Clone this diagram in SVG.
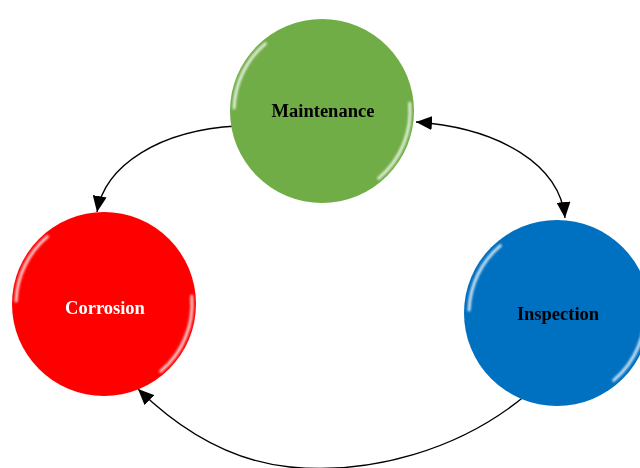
<svg xmlns="http://www.w3.org/2000/svg" xmlns:xlink="http://www.w3.org/1999/xlink" width="640" height="468" viewBox="0 0 640 468">
<style>
.lbl{font-family:"Liberation Serif","Times New Roman",serif;font-weight:bold;font-size:18.5px;text-anchor:middle}
.conn{fill:none;stroke:#000;stroke-width:1.3}
.gl{fill:none;stroke:#fff;stroke-width:3;stroke-linecap:round;opacity:0.8}
</style>
<defs>
<filter id="blur" x="-20%" y="-20%" width="140%" height="140%"><feGaussianBlur stdDeviation="1.2"/></filter>
<marker id="arr" viewBox="0 0 16 14" refX="16" refY="7" markerWidth="16" markerHeight="14" markerUnits="userSpaceOnUse" orient="auto-start-reverse">
<path d="M0,0 L16,7 L0,14 z" fill="#000"/>
</marker>
<g id="gloss" filter="url(#blur)">
<path class="gl" d="M-56.6,-67.4 A88,88 0 0 0 -87.9,-3"/>
<path class="gl" d="M87.7,-7.7 A88,88 0 0 1 56.6,67.4"/>
</g>
</defs>
<g id="connectors">
<path class="conn" d="M237,126 C160,130 105,165 97,212" marker-end="url(#arr)"/>
<path class="conn" d="M416,122 C500,128 560,165 565,218" marker-start="url(#arr)" marker-end="url(#arr)"/>
<path class="conn" d="M526,395 C460,450 370,475 290,467 C230,461 180,430 138,389" marker-end="url(#arr)"/>
</g>
<g id="maintenance">
<circle cx="322" cy="111" r="92" fill="#70AD47"/>
<use xlink:href="#gloss" transform="translate(322,111)"/>
<text class="lbl" x="323" y="117" fill="#000">Maintenance</text>
</g>
<g id="corrosion">
<circle cx="104" cy="304" r="92" fill="#FF0000"/>
<use xlink:href="#gloss" transform="translate(104,304)"/>
<text class="lbl" x="105" y="314" fill="#fff">Corrosion</text>
</g>
<g id="inspection">
<circle cx="557" cy="313" r="93" fill="#0070C0"/>
<use xlink:href="#gloss" transform="translate(557,313)"/>
<text class="lbl" x="558" y="320" fill="#000">Inspection</text>
</g>
</svg>
